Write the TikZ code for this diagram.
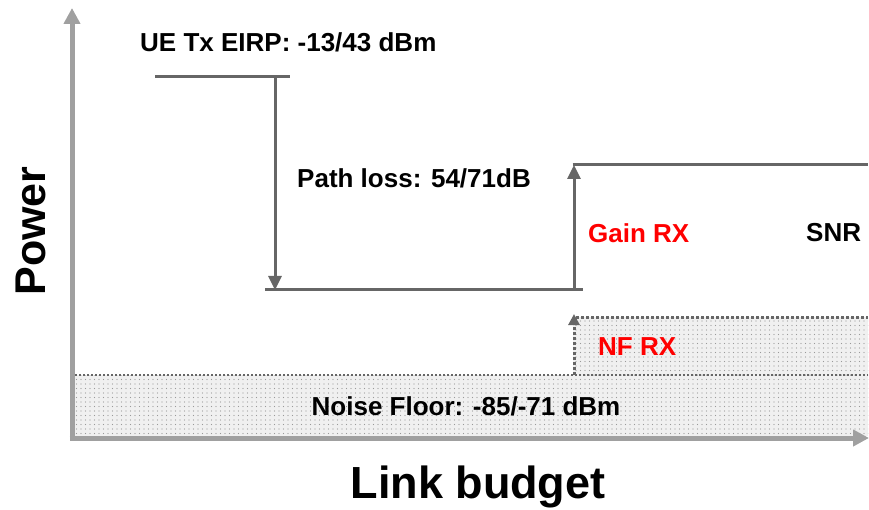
\documentclass[tikz,border=0pt]{standalone}
\usepackage{fontspec}
\setmainfont{Liberation Sans}
\usetikzlibrary{patterns,arrows.meta}
\definecolor{axisgray}{HTML}{A0A0A0}
\definecolor{linegray}{HTML}{666666}
\definecolor{dotbg}{HTML}{F0F0F0}
\pgfdeclarepatternformonly{sparsedots}{\pgfqpoint{-1pt}{-1pt}}{\pgfqpoint{1pt}{1pt}}{\pgfqpoint{4.5pt}{4.5pt}}{%
  \pgfpathcircle{\pgfqpoint{0pt}{0pt}}{0.7pt}\pgfusepath{fill}}
\begin{document}
\begin{tikzpicture}[x=1pt,y=-1pt,
  axisline/.style={draw=axisgray,line width=5pt,-{Triangle[length=16pt,width=16pt]}},
  level/.style={draw=linegray,line width=3pt},
  levelarrow/.style={draw=linegray,line width=3pt,-{Triangle[length=14pt,width=13pt]}},
  dotted region/.style={fill=dotbg,postaction={pattern=sparsedots,pattern color=gray!80}},
  lbl/.style={font=\bfseries\fontsize{26}{30}\selectfont,inner sep=0pt},
  redlbl/.style={lbl,text=red}]
\useasboundingbox (0,0) rectangle (869,510);
% regions
\path[dotted region] (75,375) rectangle (868,436);
\path[dotted region] (573,317) rectangle (868,375);
\draw[linegray,line width=2pt,dotted] (75,375) -- (868,375);
\draw[linegray,line width=3pt,dotted] (576,317) -- (868,317);
% named points
\coordinate (o) at (72,438);
\coordinate (ytop) at (72,8);
\coordinate (xend) at (869,438);
\coordinate (tx1) at (155,77);
\coordinate (tx2) at (290,77);
\coordinate (pl1) at (275,77);
\coordinate (pl2) at (275,290);
\coordinate (rx1) at (265,290);
\coordinate (rx2) at (583,290);
\coordinate (g1) at (574,290);
\coordinate (g2) at (574,165);
\coordinate (s2) at (868,165);
\coordinate (nf1) at (574,375);
\coordinate (nf2) at (574,314);
% axes
\draw[axisline] (o) -- (ytop);
\draw[axisline] ([xshift=-2.5pt]o) -- (xend);
% levels
\draw[level] (tx1) -- (tx2);
\draw[levelarrow] (pl1) -- (pl2);
\draw[level] (rx1) -- (rx2);
\draw[levelarrow] (g1) -- (g2);
\draw[level] ([xshift=-1.5pt]g2) -- (s2);
\draw[draw=linegray,line width=3pt,dotted,-{Triangle[length=11pt,width=11pt]}] (nf1) -- (nf2);
% labels
\node[lbl,anchor=west] (ue) at (140,42) {UE Tx EIRP: -13/43 dBm};
\node[lbl,anchor=west] (pl) at (297,178) {Path loss: 54/71dB};
\node[redlbl,anchor=west] (gain) at (588,233) {Gain RX};
\node[lbl,anchor=west] (snr) at (806,233) {SNR};
\node[redlbl,anchor=west] (nfrx) at (598,347) {NF RX};
\node[lbl] (noise) at (466,406) {Noise Floor: -85/-71 dBm};
\node[inner sep=0pt,font=\bfseries\fontsize{43}{48}\selectfont,rotate=90] (power) at (31,231) {Power};
\node[inner sep=0pt,font=\bfseries\fontsize{45}{50}\selectfont] (lb) at (478,487) {Link budget};
\end{tikzpicture}
\end{document}
